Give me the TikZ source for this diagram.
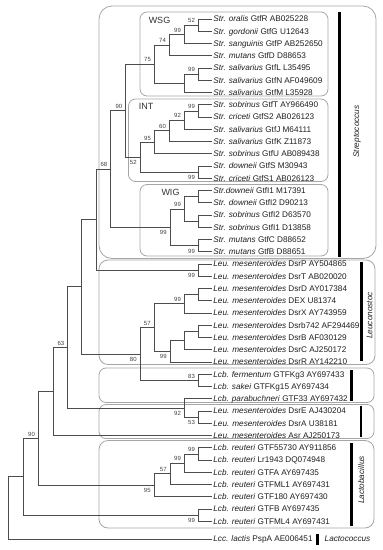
\documentclass[tikz,border=0pt]{standalone}
\usepackage{fontspec}
\setmainfont{Liberation Sans}
\tikzset{
  grana/.style={draw=black!70,line width=0.7pt},
  list/.style={anchor=west,inner xsep=1.2pt,inner ysep=0pt,text height=5.9pt,text depth=0pt,
               font=\fontsize{8.2}{9}\selectfont,text=black!88},
  bs/.style={font=\fontsize{6}{7}\selectfont,inner sep=0.7pt,text=black!75},
  bsa/.style={bs,anchor=south east,xshift=-2.5pt,yshift=1.3pt},
  bsb/.style={bs,anchor=north east,xshift=-2.5pt,yshift=-2.4pt},
  klada/.style={draw=black!35,line width=0.8pt},
  grupa/.style={font=\fontsize{9}{10}\selectfont,text=black!80,inner sep=0pt},
  rod/.style={font=\fontsize{8.2}{9}\selectfont\itshape,text=black!88,inner sep=0pt},
  traka/.style={line width=2.4pt,black},
}

\begin{document}
\begin{tikzpicture}[x=1pt,y=-1pt]
  \useasboundingbox (0,0) rectangle (383,550);

  % ---------- OKVIRI KLADA ----------
  \draw[klada,rounded corners=13pt] (99,6) rectangle (376,258.5);
  \draw[klada,rounded corners=7pt] (140,12) rectangle (328,96);
  \draw[klada,rounded corners=7pt] (128.5,99) rectangle (328,181.5);
  \draw[klada,rounded corners=7pt] (140,184.5) rectangle (328,256);
  \draw[klada,rounded corners=9pt] (99,260) rectangle (375,364.5);
  \draw[klada,rounded corners=7pt] (99,368) rectangle (374,402.5);
  \draw[klada,rounded corners=7pt] (99,404.5) rectangle (374,438.5);
  \draw[klada,rounded corners=9pt] (99,440.5) rectangle (374,528);

  \node[grupa] (wsg) at (159.5,20) {WSG};
  \node[grupa] (int) at (146,106) {INT};
  \node[grupa] (wig) at (170.5,192.3) {WIG};

  % ---------- LISTOVI ----------
  \foreach \i/\sp/\gn in {%
      0/Str. oralis/GtfR AB025228,
      1/Str. gordonii/GtfG U12643,
      2/Str. sanguinis/GtfP AB252650,
      3/Str. mutans/GtfD D88653,
      4/Str. salivarius/GtfL L35495,
      5/Str. salivarius/GtfN AF049609,
      6/Str. salivarius/GtfM L35928,
      7/Str. sobrinus/GtfT AY966490,
      8/Str. criceti/GtfS2 AB026123,
      9/Str. salivarius/GtfJ M64111,
      10/Str. salivarius/GtfK Z11873,
      11/Str. sobrinus/GtfU AB089438,
      12/Str. downeii/GtfS M30943,
      13/Str. criceti/GtfS1 AB026123,
      14/Str.downeii/GtfI1 M17391,
      15/Str. downeii/GtfI2 D90213,
      16/Str. sobrinus/GtfI2 D63570,
      17/Str. sobrinus/GtfI1 D13858,
      18/Str. mutans/GtfC D88652,
      19/Str. mutans/GtfB D88651,
      20/Leu. mesenteroides/DsrP AY504865,
      21/Leu. mesenteroides/DsrT AB020020,
      22/Leu. mesenteroides/DsrD AY017384,
      23/Leu. mesenteroides/DEX U81374,
      24/Leu. mesenteroides/DsrX AY743959,
      25/Leu. mesenteroides/Dsrb742 AF294469,
      26/Leu. mesenteroides/DsrB AF030129,
      27/Leu. mesenteroides/DsrC AJ250172,
      28/Leu. mesenteroides/DsrR AY142210,
      29/Lcb. fermentum/GTFKg3 AY697433,
      30/Lcb. sakei/GTFKg15 AY697434,
      31/Lcb. parabuchneri/GTF33 AY697432,
      32/Leu. mesenteroides/DsrE AJ430204,
      33/Leu. mesenteroides/DsrA U38181,
      34/Leu. mesenteroides/Asr AJ250173,
      35/Lcb. reuteri/GTF55730 AY911856,
      36/Lcb. reuteri/Lr1943 DQ074948,
      37/Lcb. reuteri/GTFA AY697435,
      38/Lcb. reuteri/GTFML1 AY697431,
      39/Lcb. reuteri/GTF180 AY697430,
      40/Lcb. reuteri/GTFB AY697435,
      41/Lcb. reuteri/GTFML4 AY697431}
  {
    \coordinate (t\i) at (212,{19+12.25*\i});
    \node[list] (l\i) at (t\i) {\textit{\sp} \gn};
  }
  \coordinate (t42) at (212,539);
  \node[list] (l42) at (t42) {\textit{Lcc. lactis} PspA AE006451};

  % ---------- UNUTRASNJI CVOROVI ----------
  \foreach \n/\x/\y in {%
      A/198.3/25.1, B/184.3/34.3, C/169.3/45.0, D/198.3/74.1, E/184.3/83.3, F/154.3/64.2,
      G/198.3/110.9, H/184.3/120.1, I/169.3/130.8, J/154.3/142.3, K/198.3/172.1, L/140/157.2,
      M/125.7/110.7, N/198.3/196.6, O/198.3/221.1, P/184.3/208.9, Q/198.3/245.6, R/170/227.25,
      S/110.7/169.0, T/198.3/270.1, U/96.7/219.5, V/198.3/294.6, W/184.3/303.8, X/198.3/331.4,
      Y/184.3/340.6, Z/170/351.3, AA/154/327.5, BB/198.3/380.4, CC/140/354.0, DD/81.7/286.8,
      EE/198.3/417.1, FF/184.3/407.9, GG/67.7/347.4, HH/53.3/391.4, II/198.3/453.9,
      JJ/184.3/463.1, KK/170/473.8, LL/154/485.3, MM/38.3/438.3, OO/198.3/515.1,
      NN/23.3/476.7, root/8.3/507.9}
    \coordinate (n\n) at (\x,\y);

  % grane: roditelj |- dete
  \foreach \p/\c in {%
      nA/t0, nA/t1, nB/nA, nB/t2, nC/nB, nC/t3, nD/t4, nD/t5, nE/nD, nE/t6, nF/nC, nF/nE,
      nG/t7, nG/t8, nH/nG, nH/t9, nI/nH, nI/t10, nJ/nI, nJ/t11, nK/t12, nK/t13, nL/nJ, nL/nK,
      nM/nF, nM/nL, nN/t14, nN/t15, nO/t16, nO/t17, nP/nN, nP/nO, nQ/t18, nQ/t19, nR/nP, nR/nQ,
      nS/nM, nS/nR, nT/t20, nT/t21, nU/nS, nU/nT, nV/t22, nV/t23, nW/nV, nW/t24, nX/t25, nX/t26,
      nY/nX, nY/t27, nZ/nY, nZ/t28, nAA/nW, nAA/nZ, nBB/t29, nBB/t30, nCC/nAA, nCC/nBB,
      nDD/nU, nDD/nCC, nEE/t32, nEE/t33, nFF/t31, nFF/nEE, nGG/nDD, nGG/nFF, nHH/nGG, nHH/t34,
      nII/t35, nII/t36, nJJ/nII, nJJ/t37, nKK/nJJ, nKK/t38, nLL/nKK, nLL/t39, nMM/nHH, nMM/nLL,
      nOO/t40, nOO/t41, nNN/nMM, nNN/nOO, nroot/nNN, nroot/t42}
    \draw[grana] (\p) |- (\c);

  % ---------- BOOTSTRAP ----------
  \foreach \n/\v in {A/52, B/99, C/74, D/99, F/75, M/90, G/99, H/92, I/60, J/95, S/68,
      P/99, W/99, AA/57, BB/83, GG/63, II/99, JJ/99, KK/57, MM/90}
    \node[bsa] (b\n) at (n\n) {\v};
  \foreach \n/\v in {K/99, L/52, Q/99, R/99, T/99, Z/99, CC/80, FF/92, EE/53, LL/95, OO/99}
    \node[bsb] (b\n) at (n\n) {\v};

  % ---------- RODOVI ----------
  \draw[traka] (339.3,12) -- (339.3,256.5);
  \draw[traka] (361.5,262) -- (361.5,361);
  \draw[traka] (351.5,370) -- (351.5,401);
  \draw[traka] (361,406) -- (361,436.5);
  \draw[traka] (351.3,443) -- (351.3,526);
  \draw[traka] (317.5,534) -- (317.5,545);

  \node[rod,rotate=90] (strep) at (357,131.5) {Streptococcus};
  \node[rod,rotate=90] (leuco) at (369.5,315.5) {Leuconostoc};
  \node[rod,rotate=90] (lacto) at (361.3,480) {Lactobacillus};
  \node[rod,anchor=west] (lacco) at (324.5,539) {Lactococcus};

\end{tikzpicture}
\end{document}
